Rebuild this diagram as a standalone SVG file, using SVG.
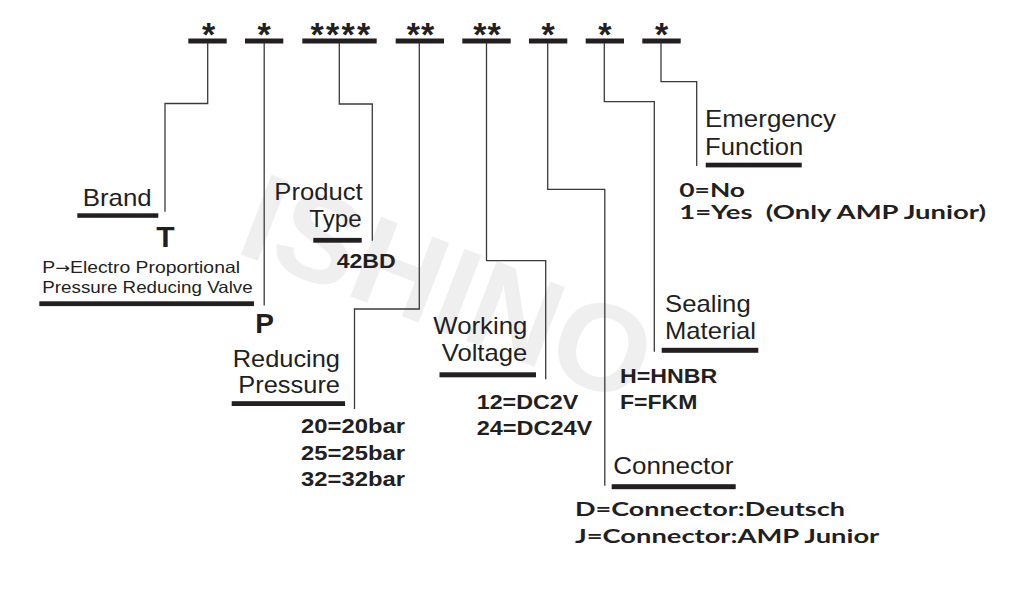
<svg xmlns="http://www.w3.org/2000/svg" width="1017" height="600" viewBox="0 0 1017 600">
<style>
.lbl{font-family:"Liberation Sans",Arial,sans-serif;font-size:24px;fill:#231f20}
.sm{font-family:"Liberation Sans",Arial,sans-serif;font-size:16.5px;fill:#231f20}
.val{font-family:"Liberation Sans",Arial,sans-serif;font-size:19.5px;font-weight:bold;fill:#231f20}
.hv{font-family:Lato,"Open Sans",sans-serif;font-size:18.5px;font-weight:bold;fill:#231f20}
.big{font-family:"Liberation Sans",Arial,sans-serif;font-weight:bold;fill:#231f20}
.star{font-family:"Liberation Sans",Arial,sans-serif;font-size:34px;font-weight:bold;fill:#231f20;text-anchor:middle}
.bar{fill:#231f20}
.ln{fill:none;stroke:#3a3a3a;stroke-width:1.3}
.wm{font-family:"Liberation Sans",Arial,sans-serif;font-size:124px;font-weight:bold;fill:#efefef}
</style>
<rect width="1017" height="600" fill="#ffffff"/>
<text class="wm" transform="translate(233.3,251.4) rotate(21)">ISHINO</text>

<g id="code">
<rect class="bar" x="188.3" y="38.5" width="38.4" height="5"/>
<rect class="bar" x="245" y="38.5" width="38.3" height="5"/>
<rect class="bar" x="302.3" y="38.5" width="74.4" height="5"/>
<rect class="bar" x="395.7" y="38.5" width="48.3" height="5"/>
<rect class="bar" x="462.3" y="38.5" width="48.4" height="5"/>
<rect class="bar" x="529" y="38.5" width="38.3" height="5"/>
<rect class="bar" x="585.7" y="38.5" width="38.3" height="5"/>
<rect class="bar" x="642.3" y="38.5" width="38.4" height="5"/>
<text class="star" x="208.5" y="46">*</text>
<text class="star" x="264.2" y="46">*</text>
<text class="star" x="341.5" y="46" letter-spacing="2.3">****</text>
<text class="star" x="421" y="46" letter-spacing="1">**</text>
<text class="star" x="487.5" y="46" letter-spacing="1">**</text>
<text class="star" x="548.2" y="46">*</text>
<text class="star" x="604.8" y="46">*</text>
<text class="star" x="661.5" y="46">*</text>
</g>

<g id="connectors">
<path class="ln" d="M207.7,43 V103.5 H165 V211.7"/>
<path class="ln" d="M264.2,43 V305.5"/>
<path class="ln" d="M339.3,43 V104 H372.3 V240.7"/>
<path class="ln" d="M419.3,43 V309 H354.5 V409"/>
<path class="ln" d="M486.5,43 V260.7 H545.7 V379.3"/>
<path class="ln" d="M547.7,43 V189.3 H604.8 V485.7"/>
<path class="ln" d="M604.3,43 V101.7 H654.3 V351.7"/>
<path class="ln" d="M661,43 V81.7 H696.7 V166"/>
</g>

<g id="brand">
<text class="lbl" x="82.7" y="206" textLength="69" lengthAdjust="spacingAndGlyphs">Brand</text>
<rect class="bar" x="77.3" y="213.3" width="81" height="4.5"/>
<text class="big" x="165.5" y="247" font-size="30" text-anchor="middle">T</text>
</g>

<g id="type-desc">
<text class="sm" x="42.3" y="272.7" textLength="197.7" lengthAdjust="spacingAndGlyphs">P<tspan font-family="DejaVu Sans" font-size="15">→</tspan>Electro Proportional</text>
<text class="sm" x="42.3" y="293.3" textLength="210.4" lengthAdjust="spacingAndGlyphs">Pressure Reducing Valve</text>
<rect class="bar" x="39.3" y="301.3" width="214.7" height="4.8"/>
<text class="big" x="264.5" y="333.3" font-size="28" text-anchor="middle">P</text>
</g>

<g id="product-type">
<text class="lbl" x="274.3" y="200" textLength="88.4" lengthAdjust="spacingAndGlyphs">Product</text>
<text class="lbl" x="309.3" y="227.3" textLength="52.4" lengthAdjust="spacingAndGlyphs">Type</text>
<rect class="bar" x="313.3" y="237.9" width="48.4" height="4.8"/>
<text class="val" x="336.7" y="268.3" textLength="59" lengthAdjust="spacingAndGlyphs">42BD</text>
</g>

<g id="reducing-pressure">
<text class="lbl" x="232.7" y="366.7" textLength="107.3" lengthAdjust="spacingAndGlyphs">Reducing</text>
<text class="lbl" x="238.3" y="393.3" textLength="101.7" lengthAdjust="spacingAndGlyphs">Pressure</text>
<rect class="bar" x="231.7" y="401.2" width="113.3" height="4.8"/>
<text class="val" x="301" y="432.7" textLength="104" lengthAdjust="spacingAndGlyphs">20=20bar</text>
<text class="val" x="301" y="459.5" textLength="104" lengthAdjust="spacingAndGlyphs">25=25bar</text>
<text class="val" x="301" y="486" textLength="104" lengthAdjust="spacingAndGlyphs">32=32bar</text>
</g>

<g id="working-voltage">
<text class="lbl" x="433.3" y="333.8" textLength="94" lengthAdjust="spacingAndGlyphs">Working</text>
<text class="lbl" x="441.7" y="361.3" textLength="85.6" lengthAdjust="spacingAndGlyphs">Voltage</text>
<rect class="bar" x="439.5" y="372.3" width="96.5" height="5"/>
<text class="val" x="476.7" y="409" textLength="101.6" lengthAdjust="spacingAndGlyphs">12=DC2V</text>
<text class="val" x="476.7" y="435" textLength="115.6" lengthAdjust="spacingAndGlyphs">24=DC24V</text>
</g>

<g id="connector">
<text class="lbl" x="613.3" y="474" textLength="120" lengthAdjust="spacingAndGlyphs">Connector</text>
<rect class="bar" x="611.7" y="484.2" width="124" height="5"/>
<text class="hv" x="575" y="516" textLength="270" lengthAdjust="spacingAndGlyphs">D=Connector:Deutsch</text>
<text class="hv" x="575" y="542.7" textLength="304.3" lengthAdjust="spacingAndGlyphs">J=Connector:AMP Junior</text>
</g>

<g id="sealing-material">
<text class="lbl" x="665" y="311.7" textLength="85.7" lengthAdjust="spacingAndGlyphs">Sealing</text>
<text class="lbl" x="665" y="339.3" textLength="91" lengthAdjust="spacingAndGlyphs">Material</text>
<rect class="bar" x="661.7" y="347.8" width="96.6" height="5"/>
<text class="val" x="620" y="383.3" textLength="97.3" lengthAdjust="spacingAndGlyphs">H=HNBR</text>
<text class="val" x="620" y="409.3" textLength="77.3" lengthAdjust="spacingAndGlyphs">F=FKM</text>
</g>

<g id="emergency-function">
<text class="lbl" x="705" y="126.7" textLength="131" lengthAdjust="spacingAndGlyphs">Emergency</text>
<text class="lbl" x="705" y="155" textLength="98.3" lengthAdjust="spacingAndGlyphs">Function</text>
<rect class="bar" x="705.7" y="162.7" width="96" height="4.7"/>
<text class="hv" x="679.3" y="196.7" textLength="65.7" lengthAdjust="spacingAndGlyphs">0=No</text>
<text class="hv" x="679.3" y="219.3" textLength="306.7" lengthAdjust="spacingAndGlyphs" xml:space="preserve">1=Yes  (Only AMP Junior)</text>
</g>
</svg>
